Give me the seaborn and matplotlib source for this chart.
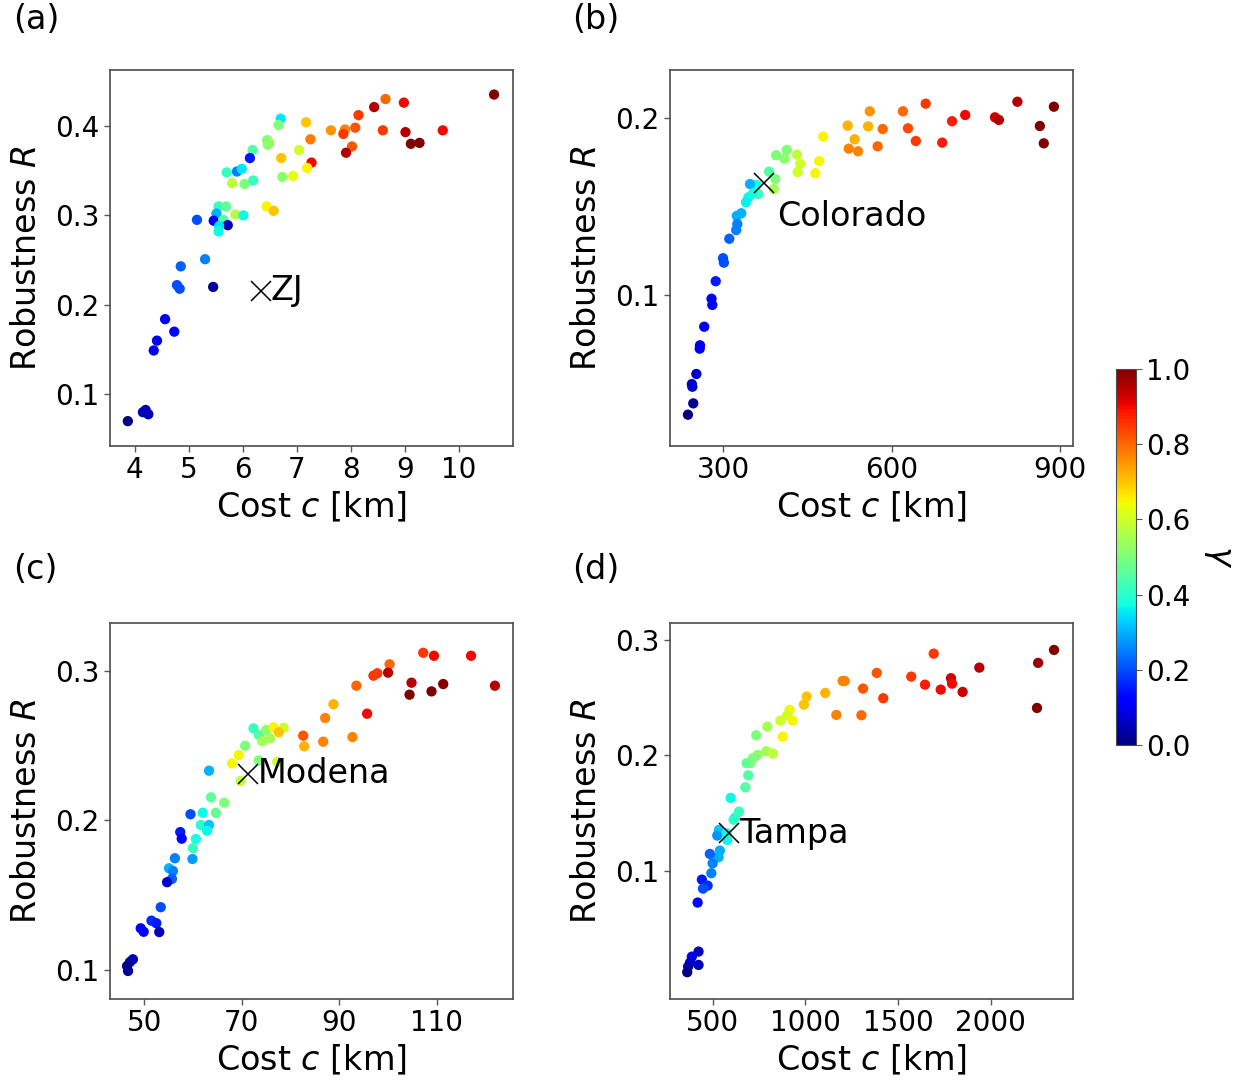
import numpy as np
import seaborn as sns
import matplotlib
matplotlib.use("Agg")
import matplotlib.pyplot as plt
from matplotlib.cm import ScalarMappable
from matplotlib.colors import Normalize

# ---- data ----
# (a) ZJ
cost_a = [10.65, 8.64, 8.98, 8.43, 8.14, 6.70, 6.66, 7.17, 7.63, 7.89, 7.86, 8.08, 8.59, 9.01, 9.70,
          9.11, 9.27, 7.25, 8.02, 7.91, 6.45, 6.49, 6.46, 6.18, 7.04, 6.13, 6.71, 7.27, 7.19, 5.70,
          5.89, 5.98, 5.80, 6.03, 6.19, 6.73, 6.93, 6.44, 6.57, 5.55, 5.69, 5.51, 5.86, 6.01, 5.15,
          5.46, 5.64, 5.72, 5.56, 5.55, 5.30, 4.85, 4.78, 4.83, 5.45, 4.56, 4.73, 4.41, 4.35, 4.20,
          4.15, 4.25, 3.87]
robust_a = [0.435, 0.430, 0.426, 0.421, 0.412, 0.408, 0.401, 0.404, 0.395, 0.396, 0.391, 0.398, 0.395, 0.393, 0.395,
            0.380, 0.381, 0.385, 0.377, 0.370, 0.384, 0.381, 0.379, 0.373, 0.373, 0.364, 0.364, 0.359, 0.353, 0.348,
            0.349, 0.352, 0.336, 0.335, 0.339, 0.343, 0.344, 0.310, 0.305, 0.310, 0.310, 0.302, 0.301, 0.300, 0.295,
            0.294, 0.295, 0.289, 0.288, 0.282, 0.251, 0.243, 0.222, 0.218, 0.220, 0.184, 0.170, 0.160, 0.149, 0.0825,
            0.080, 0.0777, 0.070]
gamma_a = [1.0, 0.8, 0.9, 0.95, 0.85, 0.35, 0.5, 0.7, 0.75, 0.77, 0.85, 0.82, 0.85, 0.95, 0.9,
           1.0, 1.0, 0.78, 0.82, 0.95, 0.5, 0.55, 0.52, 0.45, 0.6, 0.15, 0.7, 0.9, 0.65, 0.42,
           0.25, 0.35, 0.58, 0.5, 0.42, 0.52, 0.63, 0.65, 0.7, 0.42, 0.47, 0.3, 0.57, 0.37, 0.2,
           0.12, 0.45, 0.05, 0.35, 0.37, 0.25, 0.22, 0.2, 0.2, 0.02, 0.12, 0.13, 0.1, 0.1, 0.05,
           0.05, 0.05, 0.0]

# (b) Colorado
cost_b = [889, 824, 784, 791, 731, 707.5, 690, 660.6, 864, 871, 620, 629, 643, 561, 558,
          584, 521.6, 534, 523.5, 540, 575, 478, 471, 464, 431, 437, 432.5, 413, 409, 394,
          381.5, 392.7, 390, 359.5, 347.6, 362, 353, 344.6, 340.4, 332, 324, 325, 323, 310.7, 299.5,
          301, 286.5, 279, 280.4, 266, 258.5, 258, 252, 244, 244.8, 246.5, 237]
robust_b = [0.2062, 0.2090, 0.2002, 0.1987, 0.2015, 0.1980, 0.1859, 0.2079, 0.1953, 0.1855, 0.2036, 0.1940, 0.1868, 0.2036, 0.1951,
            0.1936, 0.1955, 0.1878, 0.1825, 0.1810, 0.1838, 0.1893, 0.1755, 0.1686, 0.1791, 0.1740, 0.1693, 0.1818, 0.1768, 0.1788,
            0.1695, 0.1654, 0.1597, 0.1620, 0.1625, 0.1569, 0.1573, 0.1550, 0.1522, 0.1460, 0.1445, 0.1399, 0.1365, 0.1316, 0.1206,
            0.1181, 0.1076, 0.0977, 0.0942, 0.0819, 0.0714, 0.0695, 0.0552, 0.0495, 0.0480, 0.0386, 0.0322]
gamma_b = [1.0, 0.95, 0.93, 0.95, 0.9, 0.88, 0.88, 0.85, 1.0, 1.0, 0.8, 0.83, 0.85, 0.75, 0.72,
           0.8, 0.72, 0.72, 0.77, 0.77, 0.8, 0.65, 0.65, 0.65, 0.58, 0.6, 0.6, 0.5, 0.52, 0.5,
           0.45, 0.5, 0.55, 0.38, 0.3, 0.42, 0.38, 0.37, 0.36, 0.3, 0.3, 0.25, 0.25, 0.22, 0.2,
           0.2, 0.15, 0.13, 0.13, 0.1, 0.1, 0.1, 0.07, 0.07, 0.07, 0.02, 0.0]

# (c) Modena
cost_c = [107.2, 109.4, 117.0, 100.3, 97.8, 97.0, 100.0, 104.8, 111.3, 121.9, 104.4, 108.9, 93.5, 88.8, 87.1,
          95.7, 82.6, 82.8, 86.7, 92.7, 72.4, 73.5, 75.0, 76.5, 78.6, 77.6, 75.8, 74.2, 70.7, 69.4,
          68.0, 73.5, 77.3, 69.8, 63.3, 63.7, 66.4, 59.5, 62.0, 64.7, 61.6, 63.3, 62.9, 57.4, 57.7,
          60.6, 60.0, 56.3, 59.9, 55.1, 55.9, 55.7, 54.7, 53.4, 51.5, 52.5, 49.3, 49.9, 53.1, 47.7,
          47.1, 46.5, 46.7]
robust_c = [0.312, 0.310, 0.310, 0.3043, 0.2983, 0.2967, 0.2987, 0.2920, 0.2911, 0.2900, 0.2840, 0.2862, 0.2900, 0.2776, 0.2684,
            0.2713, 0.2566, 0.2495, 0.2526, 0.2557, 0.2615, 0.2570, 0.2604, 0.2622, 0.2619, 0.2589, 0.2548, 0.2530, 0.2499, 0.2437,
            0.2381, 0.2401, 0.2392, 0.2263, 0.2332, 0.2154, 0.2118, 0.2041, 0.2051, 0.2051, 0.1969, 0.1969, 0.1931, 0.1922, 0.1878,
            0.1876, 0.1814, 0.1747, 0.1742, 0.1680, 0.1662, 0.1609, 0.1587, 0.1420, 0.1330, 0.1313, 0.1279, 0.1256, 0.1254, 0.1072,
            0.1054, 0.1027, 0.0994]
gamma_c = [0.85, 0.9, 0.9, 0.8, 0.85, 0.85, 0.95, 0.95, 1.0, 0.95, 1.0, 1.0, 0.8, 0.72, 0.77,
           0.9, 0.82, 0.72, 0.77, 0.77, 0.42, 0.45, 0.52, 0.65, 0.6, 0.7, 0.55, 0.55, 0.5, 0.65,
           0.65, 0.5, 0.6, 0.58, 0.3, 0.47, 0.5, 0.2, 0.37, 0.47, 0.4, 0.32, 0.37, 0.15, 0.12,
           0.38, 0.42, 0.25, 0.28, 0.3, 0.25, 0.22, 0.07, 0.2, 0.17, 0.15, 0.13, 0.12, 0.05, 0.05,
           0.05, 0.0, 0.02]

# (d) Tampa
cost_d = [2341, 2255, 2249, 1938, 1692, 1785, 1791, 1848, 1730, 1645, 1571, 1385, 1311, 1420, 1201,
          1212, 1107, 1167, 1302, 1007, 992, 915, 902, 931, 865, 878, 795, 735, 789, 825,
          743, 717, 703, 683, 692, 676, 597, 642, 622, 613, 534, 525, 575, 579, 539,
          532, 485, 500, 493, 442, 473, 448, 419, 424, 388, 424, 378, 368, 363]
robust_d = [0.2913, 0.2801, 0.2410, 0.2760, 0.2881, 0.2668, 0.2621, 0.2549, 0.2569, 0.2612, 0.2682, 0.2714, 0.2578, 0.2494, 0.2644,
            0.2644, 0.2540, 0.2350, 0.2347, 0.2509, 0.2439, 0.2393, 0.2347, 0.2300, 0.2300, 0.2161, 0.2248, 0.2173, 0.2035, 0.2014,
            0.2003, 0.1974, 0.1931, 0.1931, 0.1826, 0.1722, 0.1630, 0.1511, 0.1462, 0.1441, 0.1352, 0.1303, 0.1323, 0.1265, 0.1173,
            0.1115, 0.1144, 0.1063, 0.0977, 0.0921, 0.0869, 0.0843, 0.0722, 0.0297, 0.0253, 0.0181, 0.0201, 0.0167, 0.0118]
gamma_d = [1.0, 0.97, 1.0, 0.95, 0.85, 0.93, 0.9, 0.93, 0.9, 0.88, 0.85, 0.82, 0.82, 0.85, 0.77,
           0.77, 0.72, 0.77, 0.8, 0.7, 0.7, 0.65, 0.6, 0.65, 0.6, 0.65, 0.55, 0.5, 0.55, 0.58,
           0.52, 0.5, 0.5, 0.47, 0.45, 0.45, 0.37, 0.42, 0.42, 0.4, 0.32, 0.27, 0.37, 0.37, 0.3,
           0.3, 0.22, 0.25, 0.25, 0.15, 0.17, 0.2, 0.13, 0.05, 0.1, 0.05, 0.07, 0.05, 0.0]

# city marker positions (cost, robustness)
city_names = ["ZJ", "Colorado", "Modena", "Tampa"]
city_cost = [6.33, 373, 71.3, 590]
city_robust = [0.216, 0.1629, 0.231, 0.1323]

panel_letters = ["(a)", "(b)", "(c)", "(d)"]
xticks = [[4, 5, 6, 7, 8, 9, 10], [300, 600, 900], [50, 70, 90, 110], [500, 1000, 1500, 2000]]
yticks = [[0.1, 0.2, 0.3, 0.4], [0.1, 0.2], [0.1, 0.2, 0.3], [0.1, 0.2, 0.3]]

sns.set_style("ticks")
plt.rcParams["font.family"] = ["DejaVu Sans"]
plt.rcParams["mathtext.fontset"] = "dejavusans"
plt.rcParams["text.color"] = "black"
plt.rcParams["axes.labelcolor"] = "black"

jet = matplotlib.colormaps["jet"]

fig = plt.figure(figsize=(12.4, 10.81), dpi=100)
w, h = 0.3250, 0.3478
boxes = [[0.0887, 0.5874, w, h], [0.5403, 0.5874, w, h],
         [0.0887, 0.0759, w, h], [0.5403, 0.0759, w, h]]
xlims = [(3.54, 11.0), (205, 923), (43.0, 125.6), (270, 2443)]
ylims = [(0.0422, 0.4624), (0.0145, 0.2269), (0.0807, 0.3319), (-0.0114, 0.3147)]
letter_pos = [(0.0105, 0.997), (0.461, 0.997), (0.0105, 0.488), (0.461, 0.488)]

data = [(cost_a, robust_a, gamma_a), (cost_b, robust_b, gamma_b),
        (cost_c, robust_c, gamma_c), (cost_d, robust_d, gamma_d)]

for i, (cost, robust, gamma) in enumerate(data):
    ax = fig.add_axes(boxes[i])
    sns.scatterplot(x=cost, y=robust, hue=gamma, palette=jet, hue_norm=(0, 1),
                    s=55, linewidth=0, legend=False, ax=ax, zorder=2)
    ax.plot(city_cost[i], city_robust[i], marker="x", color="black", markersize=15,
            markeredgewidth=1.1, linestyle="none", zorder=3)
    if city_names[i] == "Colorado":
        ax.annotate(city_names[i], (city_cost[i], city_robust[i]), xytext=(9, -24),
                    textcoords="offset points", fontsize=24, va="center", ha="left")
    else:
        ax.annotate(city_names[i], (city_cost[i], city_robust[i]), xytext=(7, 0),
                    textcoords="offset points", fontsize=24, va="center", ha="left")
    ax.set_xlim(xlims[i])
    ax.set_ylim(ylims[i])
    ax.set_xticks(xticks[i])
    ax.set_yticks(yticks[i])
    ax.tick_params(labelsize=20, color="0.35", labelcolor="black", length=4, width=1)
    for sp in ax.spines.values():
        sp.set_color("0.3")
        sp.set_linewidth(1.2)
    ax.set_xlabel("Cost $c$ [km]", fontsize=24, labelpad=4)
    ax.set_ylabel("Robustness $R$", fontsize=24, labelpad=9)
    fig.text(letter_pos[i][0], letter_pos[i][1], panel_letters[i], fontsize=24, va="top", ha="left")

cax = fig.add_axes([0.9, 0.3108, 0.0161, 0.3478])
sm = ScalarMappable(norm=Normalize(0, 1), cmap=jet)
cbar = fig.colorbar(sm, cax=cax)
cbar.set_ticks([0.0, 0.2, 0.4, 0.6, 0.8, 1.0])
cbar.ax.tick_params(labelsize=20, color="0.35", labelcolor="black", length=4)
cbar.outline.set_edgecolor("0.3")
cbar.set_label(r"$\gamma$", fontsize=24, rotation=270, labelpad=32)

fig.savefig("out.png", dpi=100)
